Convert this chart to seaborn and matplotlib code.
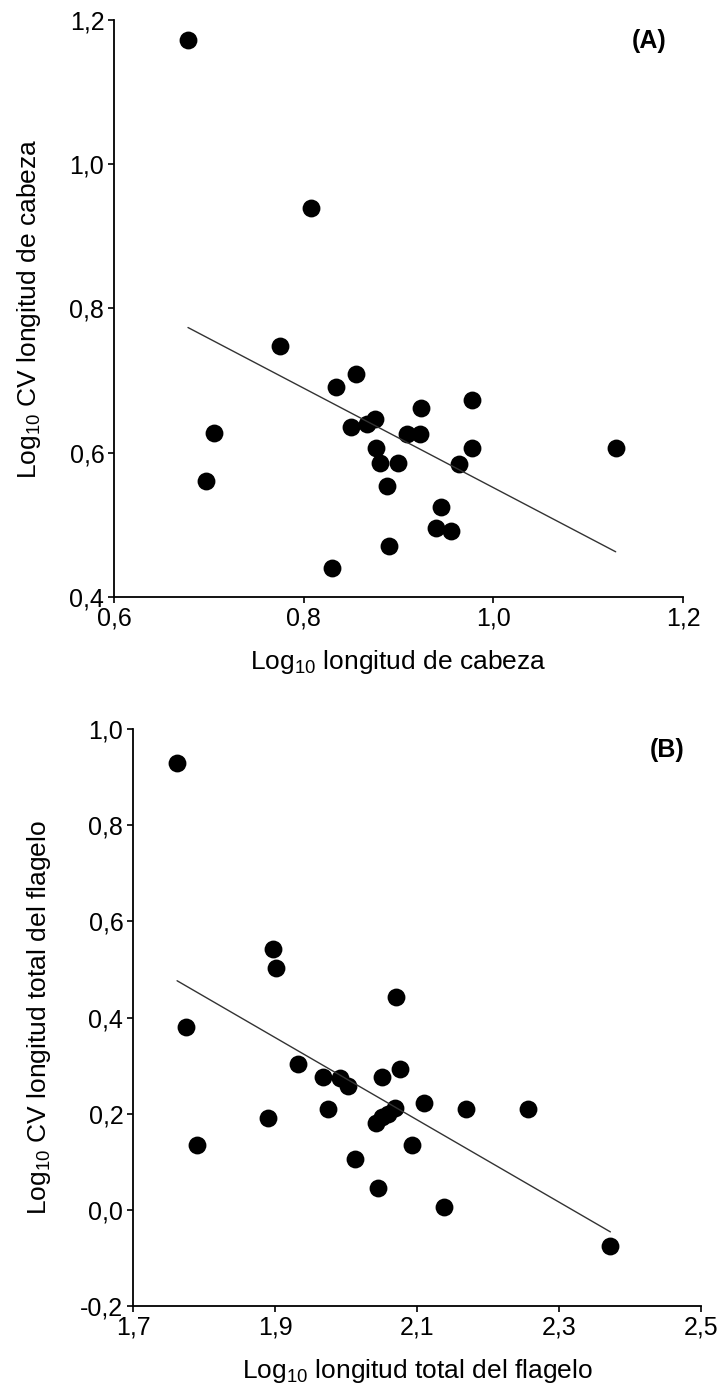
import numpy as np
import pandas as pd
import seaborn as sns
import matplotlib.pyplot as plt

# panel A: head length
cabeza_x = [0.678, 0.808, 0.775, 0.705, 0.697, 0.834, 0.830, 0.855, 0.850, 0.867,
            0.875, 0.876, 0.881, 0.899, 0.888, 0.890, 0.909, 0.923, 0.924, 0.977,
            0.977, 0.964, 0.945, 0.939, 0.955, 1.129]
cabeza_y = [1.172, 0.939, 0.748, 0.628, 0.561, 0.691, 0.440, 0.709, 0.636, 0.640,
            0.647, 0.607, 0.586, 0.586, 0.554, 0.470, 0.626, 0.626, 0.662, 0.673,
            0.607, 0.585, 0.525, 0.496, 0.492, 0.607]

# panel B: total flagellum length
flagelo_x = [1.762, 1.897, 1.901, 1.775, 1.790, 1.890, 1.932, 1.968, 1.975, 1.992,
             2.003, 2.013, 2.070, 2.051, 2.076, 2.045, 2.042, 2.050, 2.059, 2.069,
             2.093, 2.110, 2.138, 2.169, 2.256, 2.372]
flagelo_y = [0.929, 0.543, 0.503, 0.380, 0.135, 0.191, 0.304, 0.277, 0.210, 0.274,
             0.258, 0.106, 0.443, 0.277, 0.293, 0.046, 0.181, 0.193, 0.200, 0.212,
             0.135, 0.222, 0.006, 0.210, 0.210, -0.075]

sns.set_style('ticks')
plt.rcParams['font.family'] = ['Liberation Sans', 'DejaVu Sans']
plt.rcParams['mathtext.default'] = 'regular'
plt.rcParams['text.color'] = 'black'
plt.rcParams['axes.labelcolor'] = 'black'
plt.rcParams['xtick.color'] = 'black'
plt.rcParams['ytick.color'] = 'black'

fig = plt.figure(figsize=(7.23, 13.87), dpi=100)
axA = fig.add_axes([0.1577, 0.5696, 0.787, 0.416])
axB = fig.add_axes([0.184, 0.0584, 0.786, 0.416])

panels = [
    (axA, cabeza_x, cabeza_y, '(A)', 'Log$_{10}$ longitud de cabeza',
     'Log$_{10}$ CV longitud de cabeza', (0.6, 1.2), (0.4, 1.2),
     [0.6, 0.8, 1.0, 1.2], [0.4, 0.6, 0.8, 1.0, 1.2], -0.125),
    (axB, flagelo_x, flagelo_y, '(B)', 'Log$_{10}$ longitud total del flagelo',
     'Log$_{10}$ CV longitud total del flagelo', (1.7, 2.5), (-0.2, 1.0),
     [1.7, 1.9, 2.1, 2.3, 2.5], [-0.2, 0.0, 0.2, 0.4, 0.6, 0.8, 1.0], -0.141),
]

for ax, xs, ys, tag, xlab, ylab, xlim, ylim, xt, yt, ypos in panels:
    df = pd.DataFrame({'x': xs, 'y': ys})
    sns.regplot(data=df, x='x', y='y', ax=ax, ci=None, truncate=True,
                scatter_kws={'s': 165, 'color': 'black', 'alpha': 1, 'linewidths': 0},
                line_kws={'color': '#333333', 'linewidth': 1.0})
    ax.set_xlim(*xlim)
    ax.set_ylim(*ylim)
    ax.set_xticks(xt)
    ax.set_yticks(yt)
    ax.set_xticklabels([f'{v:.1f}'.replace('.', ',') for v in xt])
    ax.set_yticklabels([f'{v:.1f}'.replace('.', ',') for v in yt])
    ax.tick_params(axis='both', length=4, width=1.2, labelsize=18, pad=3,
                   color='black', labelcolor='black')
    for s in ['left', 'bottom']:
        ax.spines[s].set_linewidth(1.3)
        ax.spines[s].set_color('black')
    sns.despine(ax=ax)
    ax.set_xlabel(xlab, fontsize=19, color='black')
    ax.set_ylabel(ylab, fontsize=19, color='black')
    ax.xaxis.set_label_coords(0.5, -0.088)
    ax.yaxis.set_label_coords(ypos, 0.5)
    ax.text(0.94, 0.963, tag, transform=ax.transAxes, ha='center', va='center',
            fontsize=18, fontweight='bold', color='black')

fig.savefig('out.png', dpi=100)
